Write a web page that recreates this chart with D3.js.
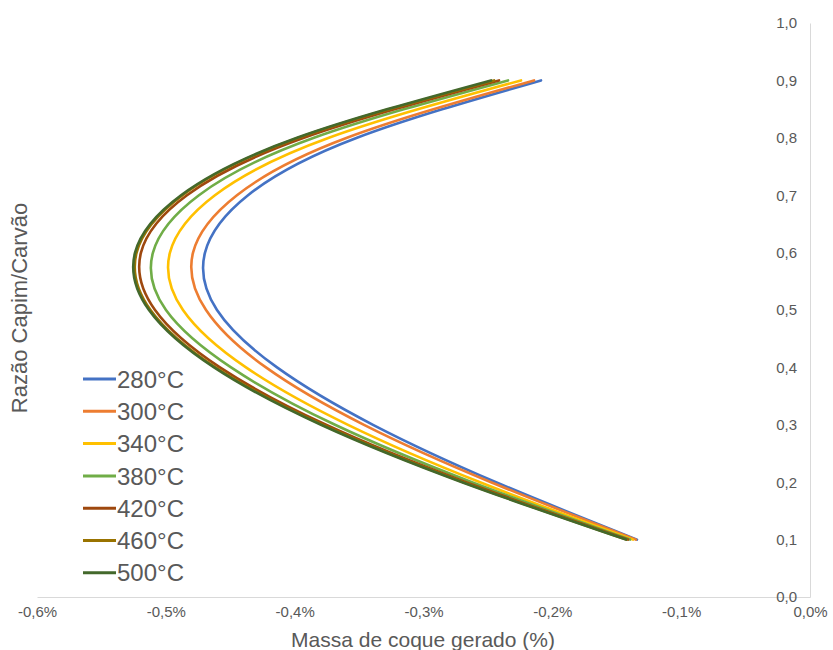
<!DOCTYPE html>
<html>
<head>
<meta charset="utf-8">
<script src="https://cdn.jsdelivr.net/npm/d3@7"></script>
<style>
  html, body { margin: 0; padding: 0; background: #fff; }
  svg { display: block; font-family: "Liberation Sans", Arial, sans-serif; }
</style>
</head>
<body>
<svg id="chart" width="833" height="650"></svg>
<script>
// Razão capim/carvão (eixo vertical) e massa de coque gerado em % (eixo horizontal)
const ratios = [0.1, 0.2, 0.3, 0.4, 0.5, 0.6, 0.7, 0.8, 0.9];

const temperatures = ["280°C", "300°C", "340°C", "380°C", "420°C", "460°C", "500°C"];

const coke280 = [-0.1343, -0.2437, -0.3392, -0.4137, -0.4603, -0.4696, -0.4362, -0.3516, -0.2088];
const coke300 = [-0.1351, -0.2476, -0.3462, -0.4223, -0.4688, -0.4789, -0.4448, -0.3594, -0.2142];
const coke340 = [-0.1374, -0.2561, -0.3586, -0.4378, -0.4867, -0.4968, -0.4619, -0.3734, -0.2243];
const coke380 = [-0.1397, -0.2624, -0.3687, -0.4494, -0.4999, -0.5100, -0.4743, -0.3850, -0.2344];
const coke420 = [-0.1413, -0.2670, -0.3757, -0.4580, -0.5084, -0.5193, -0.4836, -0.3928, -0.2414];
const coke460 = [-0.1424, -0.2690, -0.3784, -0.4614, -0.5119, -0.5227, -0.4870, -0.3971, -0.2452];
const coke500 = [-0.1428, -0.2701, -0.3796, -0.4626, -0.5131, -0.5239, -0.4882, -0.3982, -0.2476];

const xTicks = [-0.6, -0.5, -0.4, -0.3, -0.2, -0.1, 0.0];
const yTicks = [0.0, 0.1, 0.2, 0.3, 0.4, 0.5, 0.6, 0.7, 0.8, 0.9, 1.0];

const xTitle = "Massa de coque gerado (%)";
const yTitle = "Razão Capim/Carvão";

const cokeSeries = [coke280, coke300, coke340, coke380, coke420, coke460, coke500];
const palette = ["#4472C4", "#ED7D31", "#FFC000", "#70AD47", "#9E480E", "#997300", "#43682B"];

const svg = d3.select("#chart");

const x = d3.scaleLinear().domain([-0.6, 0]).range([37, 810]);
const y = d3.scaleLinear().domain([0, 1]).range([597, 23]);

const ptBR = d3.formatLocale({ decimal: ",", thousands: ".", grouping: [3], currency: ["R$", ""], minus: "-" });
const f1 = ptBR.format(".1f");
const fmtX = v => (Math.abs(v) < 1e-9 ? f1(0) : f1(v)) + "%";
const fmtY = v => f1(v);

const textColor = "#595959";
const axisColor = "#d9d9d9";

// horizontal axis
const xAxis = svg.append("g")
  .attr("transform", `translate(0,${y(0)})`)
  .call(d3.axisBottom(x).tickValues(xTicks).tickFormat(fmtX).tickSize(0).tickPadding(9));
xAxis.select(".domain").attr("stroke", axisColor).attr("stroke-width", 1);
xAxis.selectAll("text").attr("fill", textColor).attr("font-size", 15)
  .attr("font-family", "'Liberation Sans', Arial, sans-serif");

// vertical axis on the right edge (x = 0)
const yAxis = svg.append("g")
  .attr("transform", `translate(${x(0)},0)`)
  .call(d3.axisLeft(y).tickValues(yTicks).tickFormat(fmtY).tickSize(0).tickPadding(13));
yAxis.select(".domain").attr("stroke", axisColor).attr("stroke-width", 1);
yAxis.selectAll("text").attr("fill", textColor).attr("font-size", 15)
  .attr("font-family", "'Liberation Sans', Arial, sans-serif");

// axis titles
svg.append("text")
  .attr("x", 423).attr("y", 647)
  .attr("text-anchor", "middle")
  .attr("fill", textColor).attr("font-size", 21)
  .text(xTitle);

svg.append("text")
  .attr("transform", `translate(27,${308}) rotate(-90)`)
  .attr("text-anchor", "middle")
  .attr("fill", textColor).attr("font-size", 22)
  .text(yTitle);

// curves
const line = d3.line()
  .x(d => x(d[0]))
  .y(d => y(d[1]))
  .curve(d3.curveNatural);

svg.append("g").selectAll("path")
  .data(cokeSeries)
  .join("path")
  .attr("d", vals => line(vals.map((v, i) => [v, ratios[i]])))
  .attr("fill", "none")
  .attr("stroke", (d, i) => palette[i])
  .attr("stroke-width", 2.6)
  .attr("stroke-linecap", "round");

// legend
const legend = svg.append("g").attr("transform", "translate(83,379)");
const items = legend.selectAll("g")
  .data(temperatures)
  .join("g")
  .attr("transform", (d, i) => `translate(0,${i * 32.3})`);
items.append("line")
  .attr("x1", 0).attr("x2", 33).attr("y1", 0).attr("y2", 0)
  .attr("stroke", (d, i) => palette[i]).attr("stroke-width", 3);
items.append("text")
  .attr("x", 34).attr("y", 0).attr("dy", "0.36em")
  .attr("fill", textColor).attr("font-size", 24)
  .text(d => d);
</script>
</body>
</html>
